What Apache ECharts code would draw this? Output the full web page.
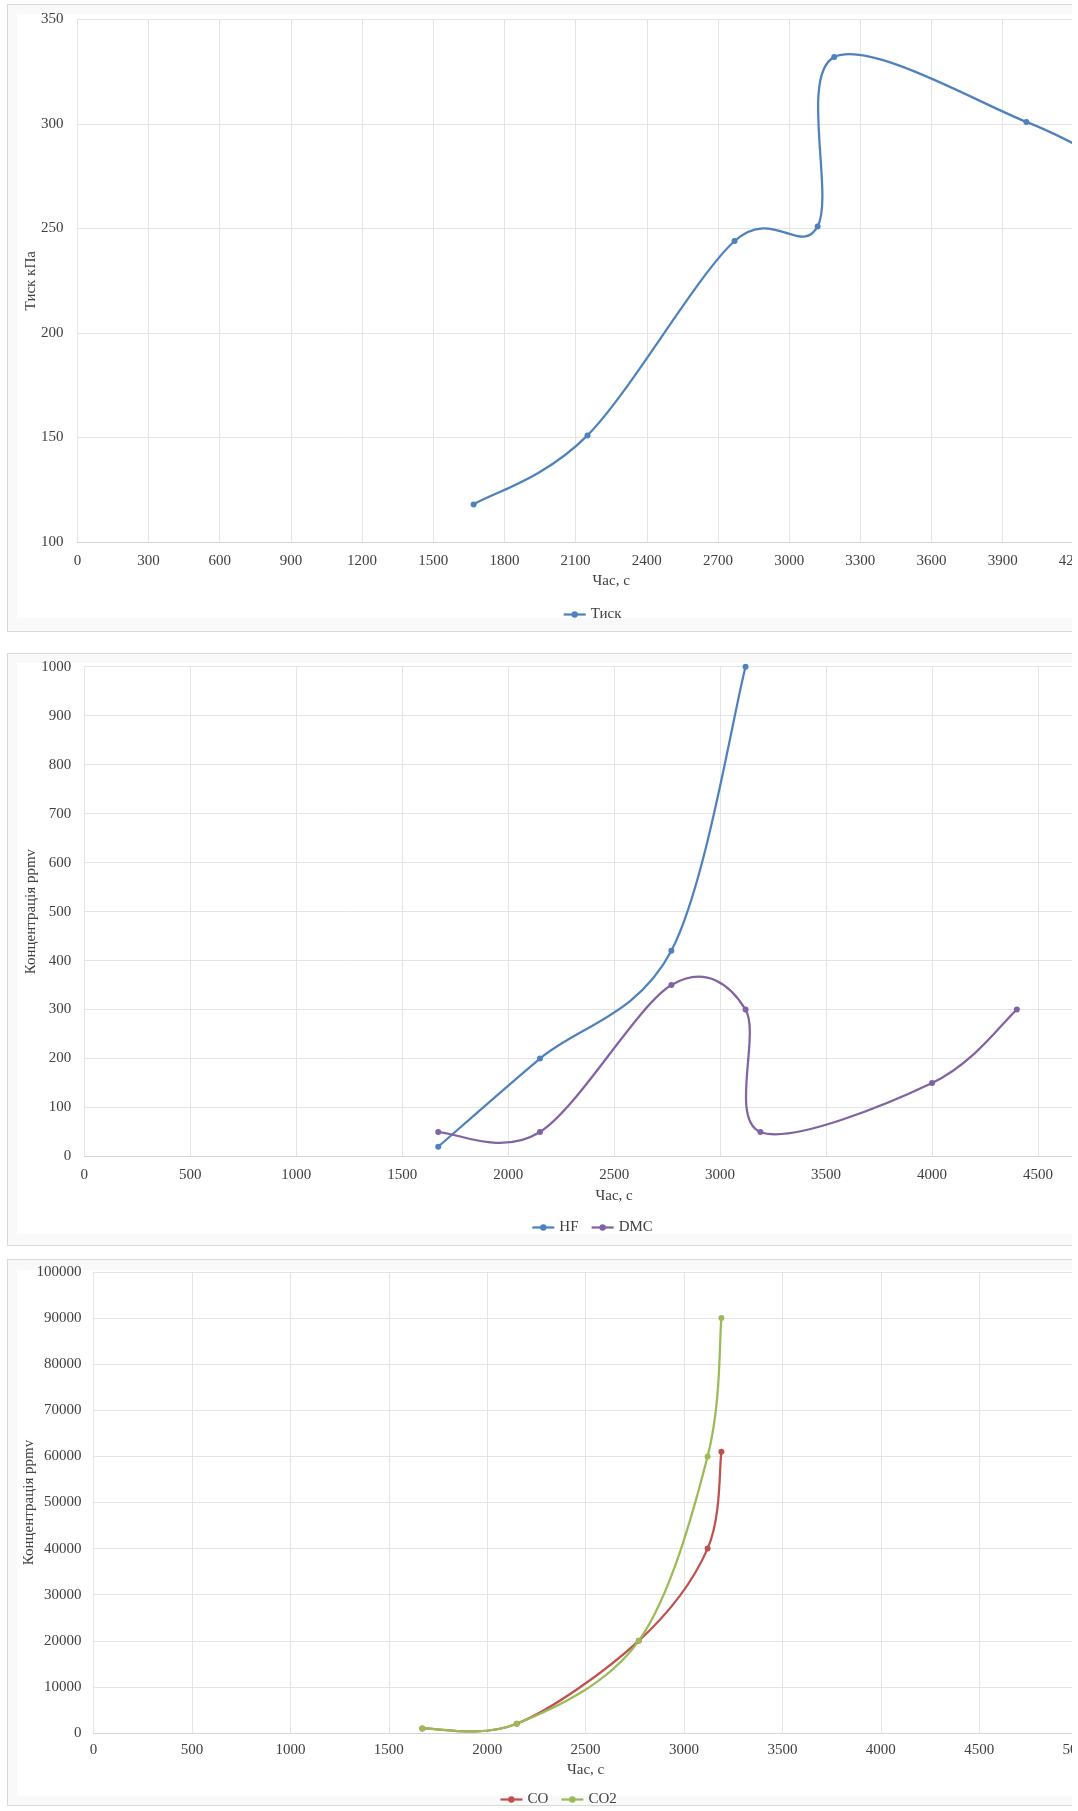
<!DOCTYPE html>
<html>
<head>
<meta charset="utf-8">
<script src="https://cdn.jsdelivr.net/npm/echarts@6/dist/echarts.min.js"></script>
<style>
    html, body {
        margin: 0;
        padding: 0;
        background: #ffffff;
    }
    #wrap {
        position: relative;
        width: 1072px;
        height: 1811px;
        overflow: hidden;
    }
    .frame {
        position: absolute;
        box-sizing: border-box;
        border: 1px solid #d9d9d9;
        background: #f9f9f9;
    }
    .inner {
        position: absolute;
        background: #ffffff;
    }
    .chart {
        position: absolute;
    }
</style>
</head>
<body>
<div id="wrap">
    <div class="frame" style="left:7px;top:4px;width:1170px;height:628px"></div>
    <div class="inner" style="left:17px;top:14px;width:1150px;height:604px"></div>
    <div id="chart1" class="chart" style="left:7px;top:4px;width:1170px;height:628px"></div>

    <div class="frame" style="left:7px;top:653px;width:1170px;height:593px"></div>
    <div class="inner" style="left:17px;top:663px;width:1150px;height:571px"></div>
    <div id="chart2" class="chart" style="left:7px;top:653px;width:1170px;height:593px"></div>

    <div class="frame" style="left:7px;top:1259px;width:1102px;height:547px"></div>
    <div class="inner" style="left:17px;top:1270px;width:1082px;height:526px"></div>
    <div id="chart3" class="chart" style="left:7px;top:1259px;width:1102px;height:547px"></div>
</div>

<script>
// Тиск
const pressureTime = [1670, 2150, 2770, 3120, 3190, 4000, 4400];
const pressure = [118, 151, 244, 251, 332, 301, 278];

// HF / DMC
const gasTime = [1670, 2150, 2770, 3120, 3190, 4000, 4400];
const hf = [20, 200, 420, 1000];
const dmc = [50, 50, 350, 300, 50, 150, 300];

// CO / CO2
const coTime = [1670, 2150, 2770, 3120, 3190];
const co = [1000, 2000, 20000, 40000, 61000];
const co2 = [1000, 2000, 20000, 60000, 90000];

const FONT = "'Liberation Serif', 'Times New Roman', serif";
const TEXT = "#404040";
const FS = 15;
const LINE_W = 2.25;

const colors = {
    blue: "#4F81BD",
    purple: "#8064A2",
    red: "#C0504D",
    green: "#9BBB59",
};

function pairs(xs, ys) {
    return ys.map((y, i) => [xs[i], y]);
}

// Excel-like smoothed line: catmull-rom segments as bezier curves,
// points are mapped through the grid with api.coord
function splineSeries(data, color) {
    return {
        type: "custom",
        coordinateSystem: "cartesian2d",
        silent: true,
        data,
        renderItem(params, api) {
            const i = params.dataIndex;
            if (i >= data.length - 1) return { type: "group", children: [] };
            const p = data.map((d) => api.coord(d));
            const p0 = p[i - 1] || p[i];
            const p1 = p[i];
            const p2 = p[i + 1];
            const p3 = p[i + 2] || p[i + 1];
            return {
                type: "bezierCurve",
                shape: {
                    x1: p1[0],
                    y1: p1[1],
                    cpx1: p1[0] + (p2[0] - p0[0]) / 6,
                    cpy1: p1[1] + (p2[1] - p0[1]) / 6,
                    cpx2: p2[0] - (p3[0] - p1[0]) / 6,
                    cpy2: p2[1] - (p3[1] - p1[1]) / 6,
                    x2: p2[0],
                    y2: p2[1],
                },
                style: { stroke: color, lineWidth: LINE_W, fill: null },
            };
        },
    };
}

// markers (and legend entry) for a series
function markerSeries(name, data, color) {
    return {
        name,
        type: "line",
        data,
        symbol: "circle",
        symbolSize: 6,
        itemStyle: { color },
        lineStyle: { width: LINE_W, color, opacity: 0 },
        emphasis: { disabled: true },
    };
}

// plain numbers, no thousands separator
const plain = (v) => String(v);

function makeOption(cfg) {
    return {
        animation: false,
        textStyle: { fontFamily: FONT },
        grid: Object.assign({ outerBoundsMode: "none", containLabel: false }, cfg.grid),
        legend: {
            left: "center",
            top: cfg.legendTop,
            itemWidth: 22,
            itemHeight: 8,
            itemGap: 12,
            lineStyle: { opacity: 1, width: LINE_W },
            textStyle: { fontFamily: FONT, fontSize: FS, color: TEXT },
            data: cfg.legend,
        },
        xAxis: {
            type: "value",
            min: 0,
            max: cfg.xMax,
            interval: cfg.xStep,
            name: "Час, с",
            nameLocation: "middle",
            nameGap: cfg.xNameGap,
            nameTextStyle: { fontFamily: FONT, fontSize: FS, color: TEXT },
            axisLine: { show: true, lineStyle: { color: "#d4d4d4", width: 1 } },
            axisTick: { show: false },
            axisLabel: {
                fontFamily: FONT,
                fontSize: FS,
                color: TEXT,
                margin: cfg.xLabelMargin,
                showMaxLabel: true,
                formatter: plain,
            },
            splitLine: { show: true, lineStyle: { color: "#e4e4e4", width: 1 } },
        },
        yAxis: {
            type: "value",
            min: cfg.yMin,
            max: cfg.yMax,
            interval: cfg.yStep,
            name: cfg.yName,
            nameLocation: "middle",
            nameRotate: 90,
            nameGap: cfg.yNameGap,
            nameMoveOverlap: false,
            nameTextStyle: { fontFamily: FONT, fontSize: FS, color: TEXT },
            axisLine: { show: false },
            axisTick: { show: false },
            axisLabel: {
                fontFamily: FONT,
                fontSize: FS,
                color: TEXT,
                margin: cfg.yLabelMargin,
                formatter: plain,
            },
            splitLine: { show: true, lineStyle: { color: "#e4e4e4", width: 1 } },
        },
        series: cfg.series,
    };
}

const pressureData = pairs(pressureTime, pressure);
const chart1 = echarts.init(document.getElementById("chart1"));
chart1.setOption(makeOption({
    grid: { left: 70.4, top: 15.5, width: 1067.6, height: 522.5 },
    legendTop: 598,
    legend: ["Тиск"],
    xMax: 4500,
    xStep: 300,
    xNameGap: 32,
    xLabelMargin: 12,
    yMin: 100,
    yMax: 350,
    yStep: 50,
    yName: "Тиск кПа",
    yNameGap: 39,
    yLabelMargin: 14,
    series: [
        splineSeries(pressureData, colors.blue),
        markerSeries("Тиск", pressureData, colors.blue),
    ],
}));

const hfData = pairs(gasTime, hf);
const dmcData = pairs(gasTime, dmc);
const chart2 = echarts.init(document.getElementById("chart2"));
chart2.setOption(makeOption({
    grid: { left: 77.3, top: 13.7, width: 1059.7, height: 489.8 },
    legendTop: 562,
    legend: ["HF", "DMC"],
    xMax: 5000,
    xStep: 500,
    xNameGap: 32,
    xLabelMargin: 11,
    yMin: 0,
    yMax: 1000,
    yStep: 100,
    yName: "Концентрація ppmv",
    yNameGap: 46,
    yLabelMargin: 13,
    series: [
        splineSeries(hfData, colors.blue),
        markerSeries("HF", hfData, colors.blue),
        splineSeries(dmcData, colors.purple),
        markerSeries("DMC", dmcData, colors.purple),
    ],
}));

const coData = pairs(coTime, co);
const co2Data = pairs(coTime, co2);
const chart3 = echarts.init(document.getElementById("chart3"));
chart3.setOption(makeOption({
    grid: { left: 86.6, top: 13, width: 984, height: 461 },
    legendTop: 528,
    legend: ["CO", "CO2"],
    xMax: 5000,
    xStep: 500,
    xNameGap: 30,
    xLabelMargin: 10,
    yMin: 0,
    yMax: 100000,
    yStep: 10000,
    yName: "Концентрація ppmv",
    yNameGap: 57,
    yLabelMargin: 12,
    series: [
        splineSeries(coData, colors.red),
        markerSeries("CO", coData, colors.red),
        splineSeries(co2Data, colors.green),
        markerSeries("CO2", co2Data, colors.green),
    ],
}));
</script>
</body>
</html>
